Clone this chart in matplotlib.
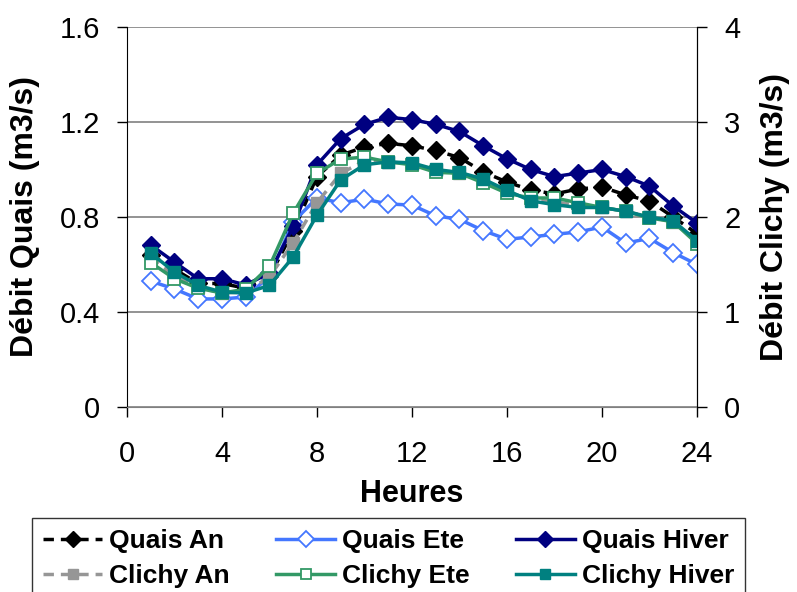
import numpy as np
import matplotlib
matplotlib.use("Agg")
from matplotlib import pyplot as plt

plt.rcParams['font.family'] = ['Liberation Sans', 'DejaVu Sans']

heures = list(range(1, 25))

# Quais (m3/s, axe gauche)
quais_an = [0.64, 0.58, 0.52, 0.52, 0.50, 0.55, 0.74, 0.97, 1.06, 1.095, 1.11, 1.10,
            1.08, 1.05, 0.99, 0.947, 0.914, 0.897, 0.918, 0.926, 0.893, 0.867, 0.80, 0.73]
quais_ete = [0.53, 0.497, 0.455, 0.455, 0.463, 0.55, 0.78, 0.88, 0.86, 0.875, 0.855, 0.85,
             0.805, 0.79, 0.743, 0.706, 0.716, 0.727, 0.737, 0.758, 0.69, 0.71, 0.65, 0.60]
quais_hiver = [0.682, 0.61, 0.54, 0.54, 0.514, 0.564, 0.76, 1.02, 1.13, 1.19, 1.22, 1.21,
               1.19, 1.16, 1.10, 1.045, 1.0, 0.97, 0.985, 1.0, 0.97, 0.93, 0.846, 0.775]

# Clichy (m3/s, axe droit)
clichy_an = [1.58, 1.38, 1.26, 1.2, 1.21, 1.37, 1.73, 2.15, 2.46, 2.59, 2.58, 2.56,
             2.49, 2.46, 2.38, 2.27, 2.18, 2.16, 2.12, 2.1, 2.06, 2.0, 1.95, 1.74]
clichy_ete = [1.52, 1.35, 1.25, 1.2, 1.24, 1.48, 2.04, 2.46, 2.61, 2.63, 2.58, 2.55,
              2.47, 2.46, 2.36, 2.25, 2.2, 2.2, 2.15, 2.1, 2.06, 1.99, 1.95, 1.72]
clichy_hiver = [1.62, 1.42, 1.28, 1.21, 1.2, 1.28, 1.58, 2.02, 2.39, 2.55, 2.58, 2.57,
                2.5, 2.47, 2.4, 2.28, 2.17, 2.13, 2.1, 2.1, 2.06, 2.0, 1.96, 1.75]

fig = plt.figure(figsize=(7.97, 5.92), dpi=100)
ax = fig.add_axes([0.1593, 0.3125, 0.7152, 0.6419])
ax2 = ax.twinx()

lw = 2.5
msd = 9   # diamonds
mss = 8   # squares

h1, = ax.plot(heures, quais_an, color='black', lw=lw, ls=(0, (3, 2)),
              marker='D', ms=msd, mfc='black', mec='black', label='Quais An')
h2, = ax.plot(heures, quais_ete, color='#4477FF', lw=lw,
              marker='D', ms=msd, mfc='white', mec='#4477FF', mew=1.3, label='Quais Ete')
h3, = ax.plot(heures, quais_hiver, color='#000080', lw=lw,
              marker='D', ms=msd, mfc='#000080', mec='#000080', label='Quais Hiver')

h4, = ax2.plot(heures, clichy_an, color='#969696', lw=lw, ls=(0, (3, 2)),
               marker='s', ms=mss, mfc='#969696', mec='#969696', label='Clichy An')
h5, = ax2.plot(heures, clichy_ete, color='#339966', lw=lw,
               marker='s', ms=mss, mfc='white', mec='#339966', mew=1.3, label='Clichy Ete')
h6, = ax2.plot(heures, clichy_hiver, color='#008080', lw=lw,
               marker='s', ms=mss, mfc='#008080', mec='#008080', label='Clichy Hiver')

ax.set_xlim(0, 24)
ax.set_ylim(0, 1.6)
ax2.set_ylim(0, 4)
ax.set_xticks(range(0, 25, 4))
ax.set_yticks([0, 0.4, 0.8, 1.2, 1.6])
ax.set_yticklabels(['0', '0.4', '0.8', '1.2', '1.6'])
ax2.set_yticks([0, 1, 2, 3, 4])

ax.grid(axis='y', color='#808080', lw=1.2)
ax.set_axisbelow(True)

for a in (ax, ax2):
    a.spines['top'].set_visible(False)
    a.tick_params(labelsize=21, direction='out', length=7.5, width=1)
ax.tick_params(axis='y', pad=12)
ax.tick_params(axis='x', pad=16)
ax2.tick_params(axis='y', pad=12)
ax.spines['bottom'].set_color('#808080')
ax.spines['left'].set_color('black')
ax2.spines['right'].set_color('black')
ax2.spines['bottom'].set_visible(False)
ax2.spines['left'].set_visible(False)

xl = ax.set_xlabel('Heures', fontsize=22, fontweight='bold')
yl = ax.set_ylabel('Débit Quais (m3/s)', fontsize=23, fontweight='bold')
yr = ax2.set_ylabel('Débit Clichy (m3/s)', fontsize=23, fontweight='bold')
for lab in (xl, yl, yr):
    lab.set_va('center')
    lab.set_ha('center')
ax.xaxis.set_label_coords(0.5, -0.229)
ax.yaxis.set_label_coords(-0.179, 0.5)
ax2.yaxis.set_label_coords(1.137, 0.5)

leg = fig.legend([h1, h4, h2, h5, h3, h6],
                 ['Quais An', 'Clichy An', 'Quais Ete', 'Clichy Ete', 'Quais Hiver', 'Clichy Hiver'],
                 ncol=3, loc='upper left', bbox_to_anchor=(32 / 797, 1 - 518 / 592),
                 prop={'size': 19, 'weight': 'bold'}, frameon=True, fancybox=False,
                 edgecolor='black', handlelength=2.25, handletextpad=0.25,
                 columnspacing=1.75, borderpad=0.42, borderaxespad=0,
                 labelspacing=0.42, markerscale=0.85)
leg.get_frame().set_linewidth(1)

fig.savefig('out.png', dpi=100)
